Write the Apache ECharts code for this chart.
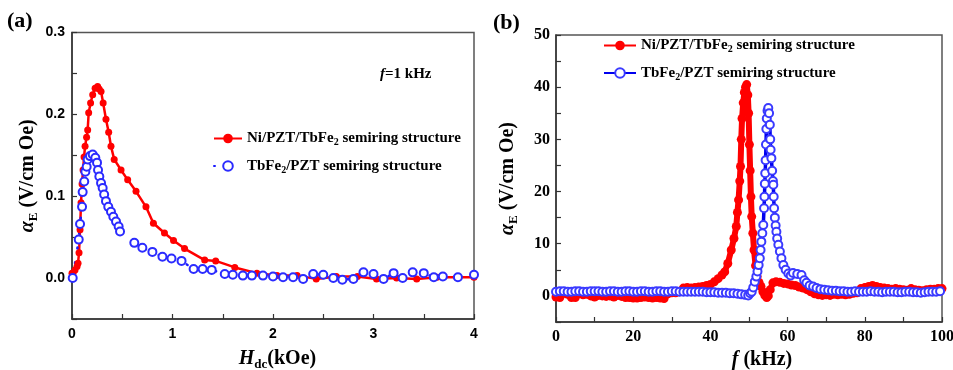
<!DOCTYPE html>
<html><head><meta charset="utf-8">
<script src="https://cdn.jsdelivr.net/npm/echarts@6/dist/echarts.min.js"></script>
<style>html,body{margin:0;padding:0;background:#fff}#c{width:953px;height:370px}</style>
</head><body><div id="c"></div>
<script>
// ---------- Panel (a): alpha_E vs H_dc (kOe) ----------
const aRedX = [0.0,0.01,0.03,0.05,0.06,0.07,0.08,0.09,0.1,0.11,0.12,0.13,0.145,0.156,0.166,0.185,0.206,0.23,0.255,0.27,0.289,0.31,0.338,0.365,0.388,0.42,0.488,0.554,0.637,0.736,0.81,0.92,1.01,1.12,1.32,1.43,1.62,1.84,2.04,2.24,2.43,2.63,2.84,3.03,3.23,3.43,3.63,3.83,4.0];
const aRedY = [0.006,0.006,0.01,0.014,0.018,0.031,0.059,0.092,0.115,0.132,0.148,0.161,0.172,0.181,0.202,0.214,0.224,0.232,0.234,0.231,0.228,0.214,0.194,0.178,0.161,0.145,0.132,0.12,0.106,0.087,0.067,0.055,0.046,0.036,0.022,0.021,0.013,0.006,0.003,0.003,-0.001,0.002,0.002,-0.001,0.0,-0.001,0.001,0.001,0.001];
const aBlueX = [0.007,0.067,0.08,0.1,0.106,0.122,0.133,0.146,0.156,0.179,0.206,0.232,0.249,0.259,0.272,0.289,0.305,0.32,0.338,0.361,0.388,0.411,0.438,0.464,0.478,0.62,0.70,0.8,0.9,0.99,1.09,1.21,1.3,1.39,1.52,1.6,1.7,1.79,1.9,2.0,2.1,2.2,2.3,2.4,2.5,2.6,2.69,2.8,2.9,3.0,3.1,3.2,3.29,3.39,3.5,3.6,3.69,3.84,4.0];
const aBlueY = [0.0,0.047,0.066,0.087,0.105,0.118,0.13,0.136,0.145,0.149,0.151,0.147,0.141,0.132,0.124,0.116,0.11,0.102,0.094,0.087,0.081,0.075,0.069,0.063,0.057,0.043,0.037,0.032,0.026,0.024,0.021,0.011,0.011,0.01,0.005,0.004,0.003,0.003,0.003,0.002,0.001,0.001,-0.001,0.005,0.004,0.0,-0.002,-0.001,0.007,0.005,-0.001,0.006,0.0,0.007,0.006,0.001,0.002,0.001,0.004];
const aXTicks = ['0','1','2','3','4'];
const aYTicks = ['0.0','0.1','0.2','0.3'];

// ---------- Panel (b): alpha_E vs f (kHz) ----------
const bRedX = [0,1,2,3,4,5,6,7,8,9,10,11,12,13,14,15,16,17,18,19,20,21,22,23,24,25,26,27,28,29,30,31,32,33,34,35,36,37,38,39,
  40,41,42,43,43.7,44.5,45.4,46.1,46.7,47.0,47.3,47.6,47.8,48.0,48.2,48.5,48.8,49.1,49.4,49.7,49.9,50.1,50.3,50.5,50.7,51.0,51.3,51.7,52.1,52.6,53.1,53.6,54.1,54.6,55.0,55.5,56.2,
  57,58,59,60,61,62,63,64,65,66,67,68,69,70,71,72,73,74,75,76,77,78,79,80,81,82,83,84,85,86,87,88,89,90,91,92,93,94,95,96,97,98,99,100];
const bRedY = [-0.2,-0.3,0.5,0.3,-0.3,-0.3,0.4,0.2,0.3,0.0,-0.2,0.1,0.0,-0.1,0.0,-0.2,0.1,-0.1,-0.3,-0.3,-0.4,-0.4,-0.3,-0.2,-0.3,-0.4,-0.3,-0.4,-0.5,0.4,0.6,0.6,0.8,1.5,1.6,1.5,1.6,1.7,1.8,2.0,
  2.2,2.7,3.3,4.0,4.6,6.2,8.8,11,13.3,16,18.4,22,24.8,30,34,37,39,40,40.5,38.5,35,29,24,19,15.2,12,8.8,5.8,3.7,2.6,1.8,0.8,0.1,-0.3,0.0,1.2,2.5,
  2.7,2.6,2.4,2.3,2.1,2.0,1.7,1.5,1.2,0.8,0.4,0.2,0.1,0.2,0.1,0.3,0.2,0.3,0.2,0.3,0.5,0.6,1.4,1.6,1.8,2.0,1.8,1.6,1.5,1.4,1.3,1.4,1.3,1.2,1.1,1.4,1.2,1.1,1.0,1.2,1.3,1.3,1.4,1.4];
const bBlueX = [0,1,2,3,4,5,6,7,8,9,10,11,12,13,14,15,16,17,18,19,20,21,22,23,24,25,26,27,28,29,30,31,32,33,34,35,36,37,38,39,40,41,42,43,44,45,46,47,48,49,
  49.8,50.3,50.7,51.1,51.5,51.9,52.2,52.5,52.8,53.0,53.2,53.45,53.7,53.9,54.0,54.1,54.2,54.3,54.4,54.5,54.6,54.8,55.0,55.2,55.4,55.5,55.6,55.8,56.0,56.2,
  56.3,56.4,56.5,56.7,56.9,57.1,57.3,57.6,58.0,58.4,58.9,59.5,60.2,60.8,61.4,62.5,63.6,64.3,64.9,65.7,66.6,67.5,68.5,69.5,70.5,71.5,72.5,73.5,
  74.5,75.5,76.5,77.5,78.5,79.5,80.5,81.5,82.5,83.5,84.5,85.5,86.5,87.5,88.5,89.5,90.5,91.5,92.5,93.5,94.5,95.5,96.5,97.5,98.5,99.5];
const bBlueY = [0.8,0.9,0.9,0.8,0.8,0.9,0.9,0.8,0.8,0.9,0.9,0.9,0.8,0.8,0.9,0.9,0.8,0.8,0.9,0.9,0.8,0.8,0.9,0.9,0.8,0.8,0.9,0.9,0.8,0.8,0.9,0.9,0.8,0.8,0.8,0.8,0.8,0.8,0.8,0.7,0.7,
  0.7,0.6,0.6,0.6,0.5,0.5,0.4,0.3,0.2,
  0.1,0.5,0.8,1.6,2.7,3.7,4.7,5.9,7.2,8.8,10.4,12,13.6,16.8,19,21.5,23.5,26,29,32,34,35.5,36,35,32.8,30,28,26.4,24,22,
  21.3,19,16.8,15,13.5,12.3,11,9.8,8.5,7.2,5.9,5.0,4.3,3.9,4.4,4.2,4.0,3.0,2.5,2.0,1.8,1.5,1.3,1.2,1.1,1.0,1.0,0.9,
  0.9,0.8,0.8,0.9,0.8,0.8,0.8,0.9,0.8,0.8,0.7,0.8,0.8,0.8,0.7,0.7,0.8,0.8,0.7,0.7,0.6,0.7,0.8,0.8,0.8,0.9];
const bXTicks = ['0','20','40','60','80','100'];
const bYTicks = ['0','10','20','30','40','50'];

const legendLabels = {
  aRed: '{n|Ni/PZT/TbFe}{s|2}{n| semiring structure}',
  aBlue: '{n|TbFe}{s|2}{n|/PZT semiring structure}',
  bRed: '{n|Ni/PZT/TbFe}{s|2}{n| semiring structure}',
  bBlue: '{n|TbFe}{s|2}{n|/PZT semiring structure}'
};

const SERIF = '"Liberation Serif","Times New Roman",serif';
const SANS = '"Liberation Sans",Arial,sans-serif';
function zip(xs, ys) { return xs.map((x, i) => [x, ys[i]]); }

const axisLine = { onZero: false, lineStyle: { color: '#333', width: 1.5 } };
const axisTick = { inside: true, length: 5, lineStyle: { color: '#333', width: 1.2 } };
const nameRich = {
  i: { fontFamily: SERIF, fontStyle: 'italic', fontWeight: 'bold', fontSize: 20, lineHeight: 24, color: '#000' },
  s: { fontFamily: SERIF, fontWeight: 'bold', fontSize: 13, lineHeight: 8, verticalAlign: 'bottom', color: '#000' },
  n: { fontFamily: SERIF, fontWeight: 'bold', fontSize: 20, lineHeight: 24, color: '#000' }
};
const xNameRich = {
  i: nameRich.i,
  n: nameRich.n,
  s: { fontFamily: SERIF, fontWeight: 'bold', fontSize: 13, lineHeight: 2, verticalAlign: 'bottom', color: '#000' }
};
const legendText = {
  fontFamily: SERIF, fontWeight: 'bold', fontSize: 15, color: '#000',
  rich: {
    n: { fontFamily: SERIF, fontWeight: 'bold', fontSize: 15, lineHeight: 18, color: '#000' },
    s: { fontFamily: SERIF, fontWeight: 'bold', fontSize: 10, lineHeight: 8, verticalAlign: 'bottom', color: '#000' }
  }
};

function pick(ticks) {
  return function (v) {
    for (const t of ticks) { if (Math.abs(parseFloat(t) - v) < 1e-6) return t; }
    return '';
  };
}

const option = {
  animation: false,
  backgroundColor: '#fff',
  grid: [
    { left: 72, top: 32.5, width: 402, height: 286.5, containLabel: false, outerBoundsMode: 'none',
      show: true, borderColor: '#555', borderWidth: 1.5, backgroundColor: 'rgba(0,0,0,0)' },
    { left: 556, top: 35, width: 386, height: 287, containLabel: false, outerBoundsMode: 'none',
      show: true, borderColor: '#555', borderWidth: 1.5, backgroundColor: 'rgba(0,0,0,0)' }
  ],
  xAxis: [
    { type: 'value', gridIndex: 0, min: 0, max: 4, interval: 0.5, axisLine, axisTick, splitLine: { show: false },
      axisLabel: { formatter: pick(aXTicks), fontFamily: SANS, fontWeight: 'bold', fontSize: 14, color: '#000', margin: 8, showMaxLabel: true },
      name: '{i|H}{s|dc}{n|(kOe)}', nameLocation: 'middle', nameGap: 28,
      nameTextStyle: { rich: xNameRich, padding: [0, 0, 0, 9] } },
    { type: 'value', gridIndex: 1, min: 0, max: 100, interval: 10, axisLine, axisTick, splitLine: { show: false },
      axisLabel: { formatter: pick(bXTicks), fontFamily: SERIF, fontWeight: 'bold', fontSize: 16, color: '#000', margin: 7, showMaxLabel: true },
      name: '{i|f}{n| (kHz)}', nameLocation: 'middle', nameGap: 22,
      nameTextStyle: { rich: nameRich, padding: [0, 0, 0, 26] } }
  ],
  yAxis: [
    { type: 'value', gridIndex: 0, min: -0.05, max: 0.3, interval: 0.05, axisLine, axisTick, splitLine: { show: false },
      axisLabel: { formatter: pick(aYTicks), fontFamily: SANS, fontWeight: 'bold', fontSize: 14, color: '#000', margin: 7 },
      name: '{i|α}{s|E}{n| (V/cm Oe)}', nameLocation: 'middle', nameGap: 32,
      nameTextStyle: { rich: nameRich } },
    { type: 'value', gridIndex: 1, min: -5, max: 50, interval: 5, axisLine, axisTick, splitLine: { show: false },
      axisLabel: { formatter: pick(bYTicks), fontFamily: SERIF, fontWeight: 'bold', fontSize: 16, color: '#000', margin: 6 },
      name: '{i|α}{s|E}{n| (V/cm Oe)}', nameLocation: 'middle', nameGap: 36,
      nameTextStyle: { rich: nameRich } }
  ],
  legend: [
    { data: ['aRed', 'aBlue'], orient: 'vertical', left: 213, top: 131, padding: 0, itemWidth: 28, itemHeight: 12, itemGap: 11,
      selectedMode: false, formatter: n => legendLabels[n], textStyle: legendText },
    { data: ['bRed', 'bBlue'], orient: 'vertical', left: 603, top: 38, padding: 0, itemWidth: 32, itemHeight: 12, itemGap: 11,
      selectedMode: false, formatter: n => legendLabels[n], textStyle: legendText }
  ],
  graphic: [
    { type: 'text', left: 7, top: 10, style: { text: '(a)', fontFamily: SERIF, fontWeight: 'bold', fontSize: 22, fill: '#000' } },
    { type: 'text', left: 493, top: 12, style: { text: '(b)', fontFamily: SERIF, fontWeight: 'bold', fontSize: 22, fill: '#000' } },
    { type: 'text', left: 380, top: 67, style: { text: '{i|f}{n|=1 kHz}', rich: {
        i: { fontFamily: SERIF, fontStyle: 'italic', fontWeight: 'bold', fontSize: 15, fill: '#000' },
        n: { fontFamily: SERIF, fontWeight: 'bold', fontSize: 15, fill: '#000' } } } }
  ],
  series: [
    { name: 'aRed', type: 'line', xAxisIndex: 0, yAxisIndex: 0, data: zip(aRedX, aRedY),
      symbol: 'circle', symbolSize: 7, itemStyle: { color: '#ff0000' }, lineStyle: { color: '#ff0000', width: 2.5 } },
    { name: 'aBlue', type: 'line', xAxisIndex: 0, yAxisIndex: 0, data: zip(aBlueX, aBlueY),
      symbol: 'emptyCircle', symbolSize: 8, itemStyle: { color: '#2b2bff', borderWidth: 1.3 },
      lineStyle: { color: '#1a1aff', width: 2.5, type: [1, 14], cap: 'round' } },
    { name: 'bRed', type: 'line', xAxisIndex: 1, yAxisIndex: 1, data: zip(bRedX, bRedY),
      symbol: 'circle', symbolSize: 9, itemStyle: { color: '#ff0000' }, lineStyle: { color: '#ff0000', width: 6 } },
    { name: 'bBlue', type: 'line', xAxisIndex: 1, yAxisIndex: 1, data: zip(bBlueX, bBlueY),
      symbol: 'emptyCircle', symbolSize: 8, itemStyle: { color: '#3a3aff', borderWidth: 1.2 },
      lineStyle: { color: '#0000ee', width: 3.5 } }
  ]
};

const chart = echarts.init(document.getElementById('c'), null, { renderer: 'canvas' });
chart.setOption(option);
</script>
</body></html>
